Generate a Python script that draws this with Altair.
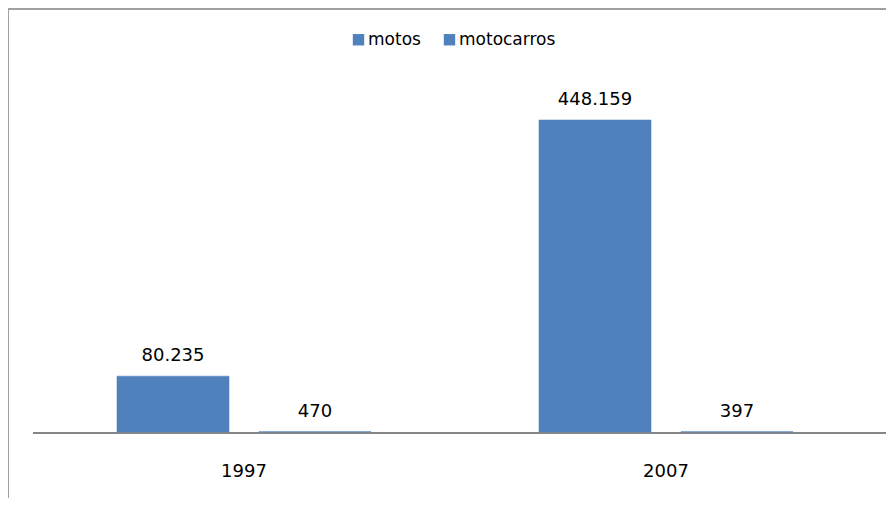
import altair as alt
import pandas as pd

years = ["1997", "2007"]
series = ["motos", "motocarros"]
motos = [80235, 448159]
motocarros = [470, 397]

rows = []
for i, y in enumerate(years):
    for s, vals in zip(series, [motos, motocarros]):
        v = vals[i]
        rows.append({"year": y, "serie": s, "value": v,
                     "label": f"{v:,}".replace(",", ".")})
df = pd.DataFrame(rows)

W, H = 844, 424
FONT = "DejaVu Sans"
BLUE = "#4F81BD"

base = alt.Chart(df).encode(
    x=alt.X("year:N", sort=years,
            scale=alt.Scale(paddingInner=0.398, paddingOuter=0.199),
            axis=alt.Axis(title=None, domain=False, ticks=False, labelAngle=0,
                          labelFont=FONT, labelFontSize=18, labelColor="#000000",
                          labelPadding=30, labelBaseline="top")),
    xOffset=alt.XOffset("serie:N", sort=series,
                        scale=alt.Scale(paddingInner=0.211, paddingOuter=0)),
    y=alt.Y("value:Q", scale=alt.Scale(domain=[0, 609000], nice=False, zero=True),
            axis=None),
)

one = alt.Data(values=[{"a": 1}])

zero_line = alt.Chart(one).mark_rule(color="#868686", strokeWidth=2).encode(
    x=alt.value(0), x2=alt.value(W + 20), y=alt.value(H + 1))
left_border = alt.Chart(one).mark_rule(color="#A0A0A0", strokeWidth=2).encode(
    x=alt.value(-25), y=alt.value(1), y2=alt.value(H + 70))
top_border = alt.Chart(one).mark_rule(color="#A0A0A0", strokeWidth=2).encode(
    x=alt.value(-25), x2=alt.value(W + 20), y=alt.value(1))

bars = base.mark_bar(stroke=BLUE, strokeWidth=0.5).encode(
    color=alt.Color("serie:N", sort=series,
                    scale=alt.Scale(domain=series, range=[BLUE, BLUE]),
                    legend=alt.Legend(title=None, orient="none", direction="horizontal",
                                      legendX=317, legendY=23,
                                      symbolType="square", symbolSize=130,
                                      symbolStrokeWidth=0, symbolOffset=0,
                                      labelFont=FONT, labelFontSize=17,
                                      labelColor="#000000", labelOffset=1,
                                      columnPadding=20)),
)

labels = base.mark_text(font=FONT, fontSize=18, color="#000000",
                        baseline="alphabetic", align="center", dy=-15).encode(
    text="label:N")

chart = alt.layer(top_border, left_border, zero_line, bars, labels).properties(
    width=W, height=H,
    padding={"left": 25, "top": 0, "right": 9, "bottom": 66},
    autosize=alt.AutoSizeParams(type="none"),
).configure(background="white", view=alt.ViewConfig(stroke=None))

chart.save("out.html", embed_options={"renderer": "svg", "actions": False})
